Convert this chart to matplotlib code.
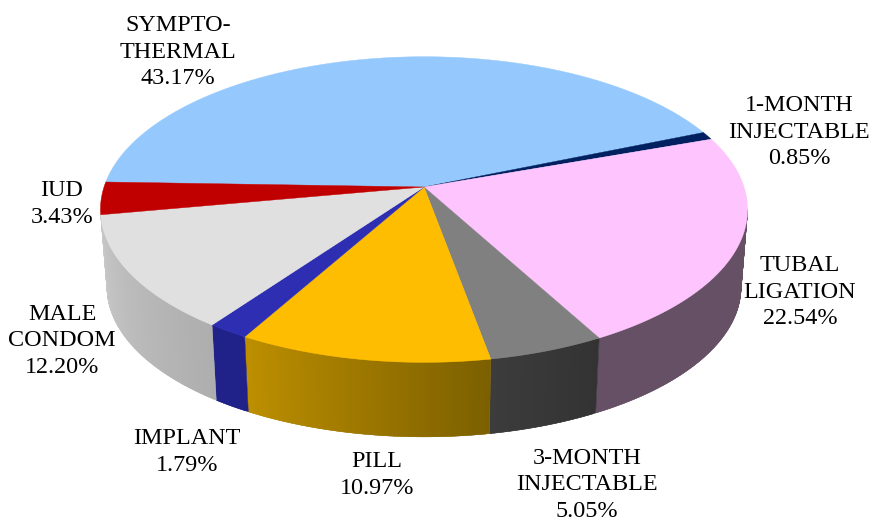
"""
3D pie of contraceptive method shares, drawn by hand in perspective
"""

import numpy as np
import matplotlib
matplotlib.use('Agg')
import matplotlib.pyplot as plt
from matplotlib.colors import to_rgb

methods = ["SYMPTO-\nTHERMAL", "1-MONTH\nINJECTABLE", "TUBAL\nLIGATION", "3-MONTH\nINJECTABLE",
           "PILL", "IMPLANT", "MALE\nCONDOM", "IUD"]
shares = [43.17, 0.85, 22.54, 5.05, 10.97, 1.79, 12.20, 3.43]
top_colors = ["#95c9fd", "#00205f", "#fdc4fd", "#808080", "#febd00", "#2e2eb2", "#e0e0e0", "#c00000"]
side_left = ["#95c9fd", "#00205f", "#665066", "#3c3c3c", "#bd8f00", "#20228a", "#c8c8c8", "#900000"]
side_right = ["#95c9fd", "#00205f", "#655064", "#333333", "#7c6000", "#20228a", "#aeaeae", "#900000"]
label_pos = [(178, 52), (799, 132), (800, 292), (587, 485), (377, 475), (187, 452), (62, 341), (62, 204)]

# perspective of the pie
CX, CY = 424, 187
A, B, K = 320, 149.5, 0.1475
DEPTH = 78
SHRINK = 0.98
START = -178.07
WALL_FROM, WALL_TO = 8.5, 169.5


def project(theta, depth=0.0, scale=1.0):
    u, v = np.cos(np.radians(theta)), np.sin(np.radians(theta))
    w = 1 - K * v
    return CX + scale * A * u / w, CY + depth + scale * B * v / w


plt.rcParams['font.family'] = ['Liberation Serif', 'DejaVu Serif']
fig = plt.figure(figsize=(8.72, 5.23), dpi=100)
ax = fig.add_axes([0, 0, 1, 1])
ax.set_xlim(0, 872)
ax.set_ylim(523, 0)
ax.axis('off')

edges = START + np.concatenate([[0], np.cumsum(shares)]) * 3.6

# side wall first, only the front part shows
for i in range(len(shares)):
    a0, a1 = max(edges[i], WALL_FROM), min(edges[i + 1], WALL_TO)
    if a1 <= a0:
        continue
    steps = np.linspace(a0, a1, max(int(a1 - a0) * 2, 2) + 1)
    left, right = np.array(to_rgb(side_left[i])), np.array(to_rgb(side_right[i]))
    # theta grows right to left along the front
    for j in range(len(steps) - 1):
        t = j / max(len(steps) - 2, 1)
        col = right * (1 - t) + left * t
        seg = np.linspace(steps[j], min(steps[j + 1] + 0.4, a1), 4)
        xt, yt = project(seg)
        xb, yb = project(seg, DEPTH, SHRINK)
        ax.fill(np.r_[xt, xb[::-1]], np.r_[yt, yb[::-1]], color=col, lw=0.3, zorder=2)

# top face
for i in range(len(shares)):
    th = np.linspace(edges[i], edges[i + 1], max(int(shares[i] * 8), 8))
    x, y = project(th)
    ax.fill(np.r_[CX, x], np.r_[CY, y], color=top_colors[i], lw=0.3, zorder=3)

for name, val, (lx, ly) in zip(methods, shares, label_pos):
    ax.text(lx, ly, f"{name}\n{val:.2f}%", ha='center', va='center', fontsize=17.4,
            color='black', linespacing=1.33, zorder=5)

fig.savefig('out.png', dpi=100, facecolor='white')
plt.close(fig)
